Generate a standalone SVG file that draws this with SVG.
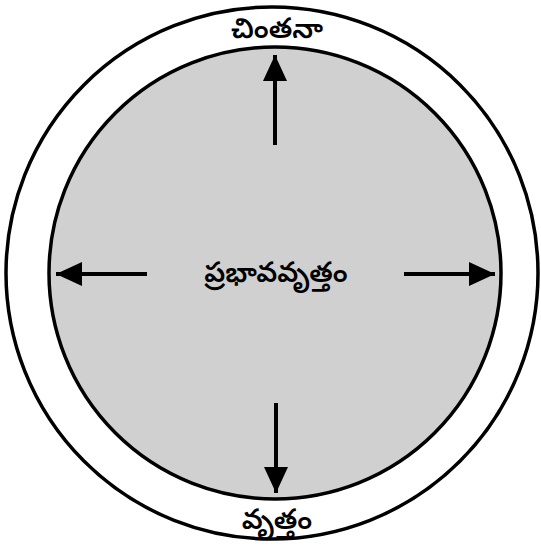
<svg xmlns="http://www.w3.org/2000/svg" width="541" height="546" viewBox="0 0 541 546">
<style>
.ring{fill:#ffffff;stroke:#000;stroke-width:3.5}
.core{fill:#d0d0d0;stroke:#000;stroke-width:3.5}
.lbl{font-family:"Noto Sans Telugu","Noto Sans","DejaVu Sans",sans-serif;font-size:28px;font-weight:600;fill:#000;text-anchor:middle}
.conn{stroke:#000;stroke-width:4;fill:none;marker-end:url(#ah)}
</style>
<defs>
<marker id="ah" markerUnits="userSpaceOnUse" markerWidth="26" markerHeight="26" viewBox="0 0 26 26" refX="26" refY="13" orient="auto">
<path d="M0,1 L26,13 L0,25 Z" fill="#000"/>
</marker>
</defs>
<rect width="541" height="546" fill="#fff"/>
<g id="outer">
<circle class="ring" cx="272" cy="273" r="266"/>
<text class="lbl" x="277" y="38">చింతనా</text>
</g>
<g id="inner">
<circle class="core" cx="275" cy="273" r="226"/>
<text class="lbl" x="276" y="282">ప్రభావవృత్తం</text>
</g>
<g id="bottom">
<text class="lbl" x="277" y="529">వృత్తం</text>
</g>
<g id="connectors">
<line class="conn" x1="275" y1="145" x2="275" y2="55"/>
<line class="conn" x1="147" y1="274" x2="56" y2="274"/>
<line class="conn" x1="404" y1="274" x2="495" y2="274"/>
<line class="conn" x1="276" y1="403" x2="276" y2="493"/>
</g>
</svg>
